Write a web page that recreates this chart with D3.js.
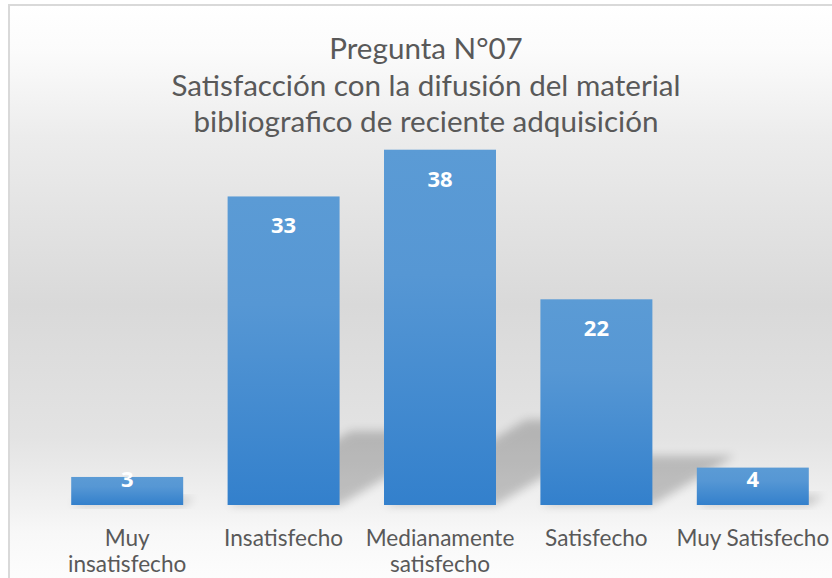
<!DOCTYPE html>
<html>
<head>
<meta charset="utf-8">
<script src="https://cdn.jsdelivr.net/npm/d3@7"></script>
<style>
body { margin: 0; background: #ffffff; }
svg { display: block; }
</style>
</head>
<body>
<div id="chart"></div>
<script>
//Chart data
var categories = ["Muy insatisfecho", "Insatisfecho", "Medianamente satisfecho", "Satisfecho", "Muy Satisfecho"];
var values = [3, 33, 38, 22, 4];
var titleLines = ["Pregunta N°07", "Satisfacción con la difusión del material", "bibliografico de reciente adquisición"];

//Width and height
var w = 832;
var h = 578;
var fontFamily = "Lato, 'Open Sans', sans-serif";

//Create SVG element
var svg = d3.select("#chart")
    .append("svg")
    .attr("width", w)
    .attr("height", h);

var defs = svg.append("defs");

//background gradient of the chart area
var bg = defs.append("linearGradient")
    .attr("id", "bgGrad")
    .attr("x1", 0).attr("y1", 0)
    .attr("x2", 0).attr("y2", 1);
[[0, "#ffffff"], [0.08, "#fbfbfb"], [0.22, "#ececec"], [0.5, "#d9d9d9"], [0.72, "#e3e3e3"], [0.84, "#f2f2f2"], [0.88, "#f8f8f8"], [1, "#ffffff"]]
    .forEach(function (s) {
        bg.append("stop").attr("offset", s[0]).attr("stop-color", s[1]);
    });

//bar gradient
var barGrad = defs.append("linearGradient")
    .attr("id", "barGrad")
    .attr("x1", 0).attr("y1", 0)
    .attr("x2", 0).attr("y2", 1);
barGrad.append("stop").attr("offset", 0).attr("stop-color", "#5b9bd5");
barGrad.append("stop").attr("offset", 0.35).attr("stop-color", "#5697d4");
barGrad.append("stop").attr("offset", 1).attr("stop-color", "#3380cc");

//blur for the shadows
defs.append("filter")
    .attr("id", "blur")
    .attr("x", "-50%").attr("y", "-50%")
    .attr("width", "200%").attr("height", "200%")
    .append("feGaussianBlur")
    .attr("stdDeviation", 5);

//chart area with border
svg.append("rect")
    .attr("x", 9)
    .attr("y", 5)
    .attr("width", 840)
    .attr("height", 600)
    .attr("fill", "url(#bgGrad)")
    .attr("stroke", "#d9d9d9")
    .attr("stroke-width", 2);

//Scales
var x = d3.scaleBand()
    .domain(categories)
    .range([49, 831])
    .paddingInner(0.284)
    .paddingOuter(0.142);

var y = d3.scaleLinear()
    .domain([0, 40])
    .range([505, 131]);

var base = y(0);

//Title
svg.append("g")
    .selectAll("text")
    .data(titleLines)
    .enter()
    .append("text")
    .attr("x", 426)
    .attr("y", function (d, i) { return 59 + i * 36.5; })
    .attr("text-anchor", "middle")
    .attr("font-family", fontFamily)
    .attr("font-size", 29.6)
    .attr("fill", "#595959")
    .text(function (d) { return d; });

//Shadows behind the bars
svg.append("g")
    .selectAll("polygon")
    .data(values)
    .enter()
    .append("polygon")
    .attr("points", function (d, i) {
        var x0 = x(categories[i]);
        var x1 = x0 + x.bandwidth();
        var hs = (base - y(d)) * 0.24;
        var dx = hs / 0.6;
        return [[x0, base], [x1, base], [x1 + dx, base - hs], [x0 + dx, base - hs]].join(" ");
    })
    .attr("fill", "#000000")
    .attr("opacity", 0.2)
    .attr("filter", "url(#blur)");

//Bars
svg.append("g")
    .selectAll("rect")
    .data(values)
    .enter()
    .append("rect")
    .attr("x", function (d, i) { return x(categories[i]); })
    .attr("y", function (d) { return y(d); })
    .attr("width", x.bandwidth())
    .attr("height", function (d) { return base - y(d); })
    .attr("fill", "url(#barGrad)");

//Value labels
svg.append("g")
    .selectAll("text")
    .data(values)
    .enter()
    .append("text")
    .attr("x", function (d, i) { return x(categories[i]) + x.bandwidth() / 2; })
    .attr("y", function (d) { return Math.min(y(d) + 37, base - 18.5); })
    .attr("text-anchor", "middle")
    .attr("font-family", "'Open Sans', sans-serif")
    .attr("font-weight", "bold")
    .attr("font-size", 22)
    .attr("fill", "#ffffff")
    .text(function (d) { return d; });

//Category labels (wrapped to the band step)
var labels = svg.append("g")
    .selectAll("text")
    .data(categories)
    .enter()
    .append("text")
    .attr("x", function (d) { return x(d) + x.bandwidth() / 2; })
    .attr("y", 546)
    .attr("text-anchor", "middle")
    .attr("font-family", fontFamily)
    .attr("font-size", 22.6)
    .attr("fill", "#595959");

labels.each(function (d) {
    var text = d3.select(this);
    var words = d.split(" ");
    var line = [];
    var tspan = text.append("tspan").attr("x", text.attr("x")).attr("dy", 0);
    words.forEach(function (word) {
        line.push(word);
        tspan.text(line.join(" "));
        if (tspan.node().getComputedTextLength() > x.step() && line.length > 1) {
            line.pop();
            tspan.text(line.join(" "));
            line = [word];
            tspan = text.append("tspan").attr("x", text.attr("x")).attr("dy", 26).text(word);
        }
    });
});
</script>
</body>
</html>
